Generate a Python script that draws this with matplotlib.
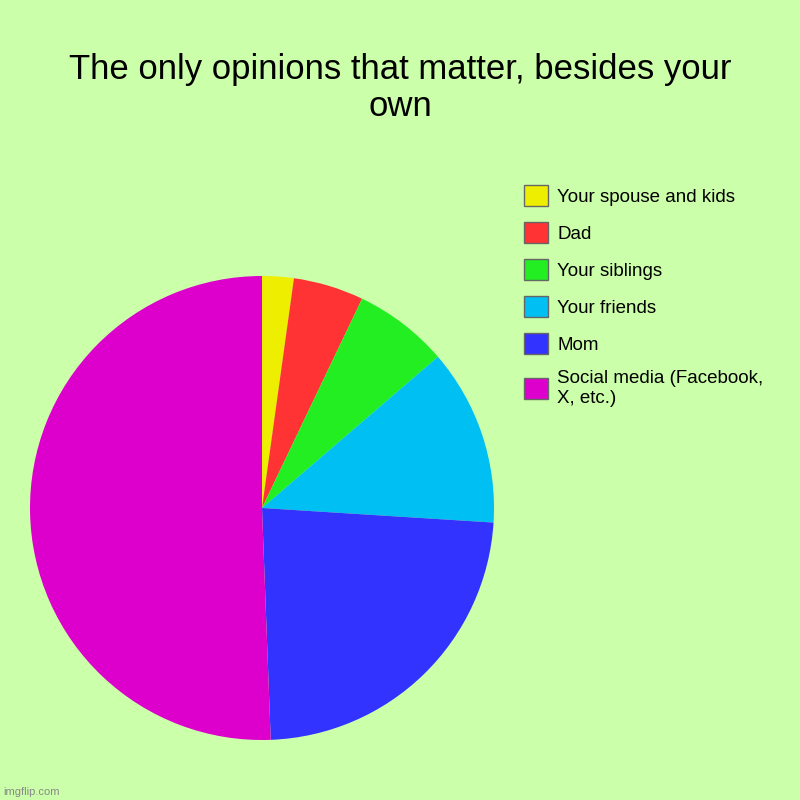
import matplotlib.pyplot as plt
from matplotlib.patches import Patch

plt.rcParams['font.family'] = ['Liberation Sans', 'DejaVu Sans']

labels = ["Your spouse and kids", "Dad", "Your siblings", "Your friends", "Mom",
          "Social media (Facebook,\nX, etc.)"]
values = [2.2, 4.9, 6.6, 12.3, 23.4, 50.6]
colors = ["#eeee00", "#ff3333", "#22ee22", "#00bff3", "#3333ff", "#dd00cc"]
bg = "#ccffaa"

fig = plt.figure(figsize=(8, 8), dpi=100, facecolor=bg)
ax = fig.add_axes([0.0375, 0.075, 0.58, 0.58])
ax.set_facecolor(bg)
ax.pie(values, colors=colors, startangle=90, counterclock=False,
       wedgeprops=dict(linewidth=0))
ax.set_xlim(-1, 1)
ax.set_ylim(-1, 1)
ax.set_aspect('equal')

fig.text(0.5, 0.89, "The only opinions that matter, besides your\nown",
         ha='center', va='center', fontsize=25, linespacing=1.15)

handles = [Patch(facecolor=c, edgecolor='#666666', linewidth=1) for c in colors]
fig.legend(handles, labels, loc='upper left', bbox_to_anchor=(0.645, 0.778),
           frameon=False, fontsize=13.5, labelspacing=0.88, handlelength=1.3,
           handleheight=1.3, handletextpad=0.5, borderaxespad=0)

fig.text(0.004, 0.006, "imgflip.com", fontsize=8, color='#888888')

fig.savefig("out.png", dpi=100, facecolor=bg)
